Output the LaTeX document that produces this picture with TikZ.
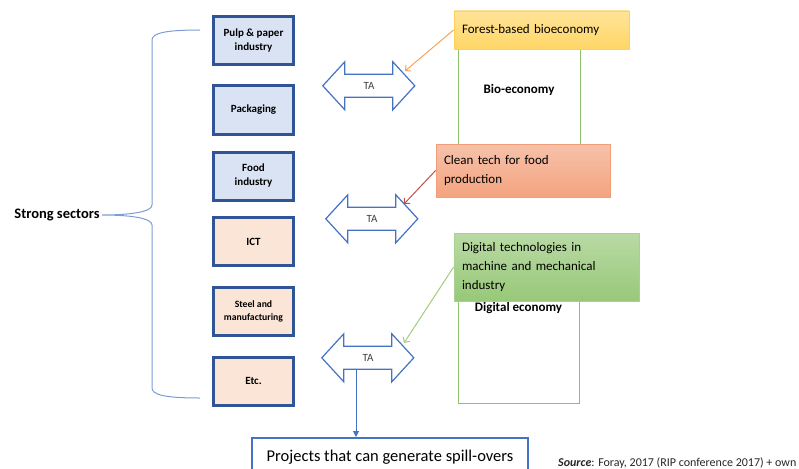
\documentclass[tikz,border=0pt]{standalone}
\usepackage{fontspec}
\setmainfont{Carlito}
\usetikzlibrary{arrows.meta}

\definecolor{secline}{HTML}{2F5597}
\definecolor{secblue}{HTML}{DAE3F3}
\definecolor{secpeach}{HTML}{FBE5D6}
\definecolor{tablue}{HTML}{4472C4}
\definecolor{bracecol}{HTML}{7C9CD3}
\definecolor{ecoline}{HTML}{8DC26A}
\definecolor{yeltop}{HTML}{FFE399}
\definecolor{yelbot}{HTML}{FFD666}
\definecolor{yelline}{HTML}{FFD15C}
\definecolor{saltop}{HTML}{F6C2AA}
\definecolor{salbot}{HTML}{F4A37F}
\definecolor{salline}{HTML}{F19E78}
\definecolor{grntop}{HTML}{B9DAA4}
\definecolor{grnbot}{HTML}{98C879}
\definecolor{grnline}{HTML}{A9D18E}
\definecolor{orangearr}{HTML}{F4A460}
\definecolor{redarr}{HTML}{C0504D}
\definecolor{greenarr}{HTML}{A2CC7E}

\begin{document}
\begin{tikzpicture}
    [x=1pt,y=-1pt,
     sector/.style={draw=secline,line width=3pt,minimum width=80pt,minimum height=48pt,
                    align=center,inner sep=1pt,font=\bfseries\fontsize{11}{14}\selectfont},
     taline/.style={draw=tablue,line width=1.2pt,fill=white,line join=miter},
     tatext/.style={minimum width=48pt,minimum height=23pt,inner sep=0pt,
                    text=black!75,font=\fontsize{11}{13}\selectfont},
     ecobox/.style={draw=ecoline,line width=1pt,inner sep=0pt},
     ecotext/.style={font=\bfseries\fontsize{13}{15}\selectfont},
     callout/.style={draw,line width=0.8pt,align=left,inner xsep=8pt,inner ysep=0pt,
                     font=\fontsize{13}{19}\selectfont},
     spill/.style={line width=1pt}]
    \useasboundingbox (0,0) rectangle (799,468);

    % sectors
    \node[sector,fill=secblue]  (s1) at (253.5,40.5) {Pulp \& paper\\industry};
    \node[sector,fill=secblue]  (s2) at (253.5,110)  {Packaging};
    \node[sector,fill=secblue]  (s3) at (253.5,176)  {Food\\industry};
    \node[sector,fill=secpeach] (s4) at (253.5,241.5) {ICT};
    \node[sector,fill=secpeach,font=\bfseries\fontsize{9.7}{13}\selectfont]
                                (s5) at (253.5,311)  {Steel and\\manufacturing};
    \node[sector,fill=secpeach] (s6) at (253.5,381)  {Etc.};

    % brace
    \node[font=\bfseries\fontsize{14.5}{17}\selectfont,inner sep=2pt] (strong) at (57,215) {Strong sectors};
    \draw[draw=bracecol,line width=1pt]
        (200,30) .. controls (166,30) and (152,33) .. (152,40) -- (152,205)
        .. controls (152,212) and (130,215) .. (strong.east)
        .. controls (130,215) and (152,218) .. (152,225) -- (152,388)
        .. controls (152,395) and (166,398) .. (200,398);

    % economies
    \node[ecobox,minimum width=122pt,minimum height=120pt] (bio) at (519,90) {};
    \node[ecotext] (biolbl) at (bio.center) {Bio-economy};
    \node[ecobox,minimum width=121pt,minimum height=111pt] (digi) at (518.5,347.5) {};
    \node[ecotext] (digilbl) at (518.5,308) {Digital economy};

    % callouts
    \node[callout,draw=yelline,top color=yeltop,bottom color=yelbot,
          minimum width=175pt,minimum height=38pt,text width=159pt]
          (forest) at (541.5,30) {Forest-based bioeconomy};
    \node[callout,draw=salline,top color=saltop,bottom color=salbot,
          minimum width=174pt,minimum height=53pt,text width=158pt]
          (clean) at (523,170.5) {Clean tech for food\\production};
    \node[callout,draw=grnline,top color=grntop,bottom color=grnbot,
          minimum width=185pt,minimum height=68pt,text width=169pt]
          (digtech) at (546.5,267) {Digital technologies in\\machine and mechanical\\industry};

    % TA arrows
    \foreach \n/\x/\y in {ta1/369/86, ta2/372/219, ta3/368/358} {
        \node[tatext] (\n) at (\x,\y) {};
        \draw[taline] (\n.north west) -- ++(0,-12.5) -- ++(-22,24) -- ++(22,24) -- ++(0,-12.5)
            -- ++(48,0) -- ++(0,12.5) -- ++(22,-24) -- ++(-22,-24) -- ++(0,12.5) -- cycle;
        \node[tatext] at (\n.center) {TA};
    }

    \coordinate (hit1) at (405,71);
    \coordinate (hit2) at (404,204);
    \coordinate (hit3) at (404,343);
    \draw[orangearr,spill,-{Straight Barb[length=4pt,width=8pt]}] (forest.west) -- (hit1);
    \draw[redarr,spill,-{Straight Barb[length=4pt,width=8pt]}] (clean.west) -- (hit2);
    \draw[greenarr,spill,-{Straight Barb[length=4pt,width=8pt]}] (digtech.west) -- (hit3);

    % projects
    \node[draw=tablue,line width=2.2pt,minimum width=276pt,minimum height=38pt,
          font=\fontsize{16.5}{19}\selectfont,anchor=north] (proj) at (390,437)
          {\raisebox{2pt}{Projects that can generate spill-overs}};
    \coordinate (drop) at ([xshift=-12pt]ta3.south);
    \draw[tablue,line width=1pt,-{Triangle[length=6pt,width=6pt]}] (drop) -- (drop |- proj.north);

    % source
    \node[anchor=west,inner sep=0pt,font=\fontsize{12}{14}\selectfont,text=black!85] (src) at (558,463)
          {\textbf{\textit{Source}}: Foray, 2017 (RIP conference 2017) + own};
\end{tikzpicture}
\end{document}
